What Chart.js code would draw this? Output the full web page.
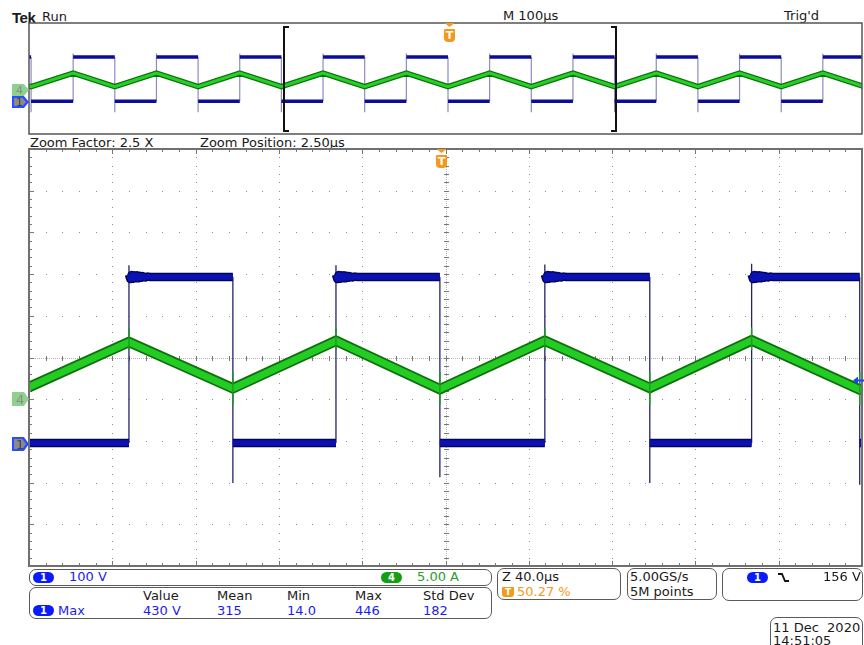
<!DOCTYPE html>
<html>
<head>
<meta charset="utf-8">
<script src="https://cdn.jsdelivr.net/npm/chart.js@4.4.0/dist/chart.umd.min.js"></script>
<style>
  body { margin: 0; width: 864px; height: 645px; overflow: hidden; background: #fff; position: relative;
         font-family: "DejaVu Sans", sans-serif; font-size: 13px; color: #1a1a1a; }
  .t { position: absolute; white-space: pre; line-height: 1; }
  .blue { color: #1c1cf0; }
  .green { color: #2a9d2a; }
  .orange { color: #f39a1e; }
  .box { position: absolute; border: 1px solid #5a5a5a; border-radius: 7px; box-sizing: border-box; }
  .pill { position: absolute; width: 21px; height: 11px; border-radius: 6px; color: #fff; text-align: center;
          font: bold 10px/11px "DejaVu Sans", sans-serif; }
  .mk { position: absolute; width: 17px; clip-path: polygon(0 0, 70% 0, 100% 50%, 70% 100%, 0 100%); }
  .mk span { position: absolute; left: 4px; top: 50%; transform: translateY(-50%); font: 13px "DejaVu Sans", sans-serif; }
  .trig { position: absolute; width: 11px; }
  .trig .tri { width: 10px; height: 4px; background: #f39a1e; clip-path: polygon(0 0, 100% 0, 50% 100%); margin-left: 0.5px; }
  .trig .tb { margin-top: 2px; width: 11px; height: 13px; background: #f39a1e; border-radius: 1px 1px 4px 4px;
              color: #fff; font: bold 11px/13px "DejaVu Sans", sans-serif; text-align: center; }
  canvas { position: absolute; }
</style>
</head>
<body>

<div class="t" style="left:12px;top:9px;font:bold 15px 'Liberation Sans',sans-serif;letter-spacing:-0.5px">Tek</div>
<div class="t" style="left:42px;top:9.5px">Run</div>
<div class="t" style="left:503px;top:9px">M 100µs</div>
<div class="t" style="left:784px;top:9px">Trig'd</div>
<div class="t" style="left:30px;top:135.5px">Zoom Factor: 2.5 X</div>
<div class="t" style="left:200px;top:135.5px">Zoom Position: 2.50µs</div>

<canvas id="overview" width="835" height="113" style="left:28px;top:22px"></canvas>
<canvas id="zoomed" width="835" height="419" style="left:28px;top:148px"></canvas>

<!-- zoom window bracket -->
<div style="position:absolute;left:283px;top:26px;width:4px;height:102px;border:2px solid #111;border-right:none"></div>
<div style="position:absolute;left:611px;top:26px;width:4px;height:102px;border:2px solid #111;border-left:none"></div>

<!-- trigger position markers -->
<div class="trig" style="left:444px;top:23px"><div class="tri"></div><div class="tb">T</div></div>
<div class="trig" style="left:436px;top:149px"><div class="tri"></div><div class="tb">T</div></div>

<!-- channel ground markers -->
<div class="mk" style="left:12px;top:84px;height:12px;background:#8fd08f"><span style="color:#8a8a8a;font-size:11px">4</span></div>
<div class="mk" style="left:12px;top:96px;height:12px;background:#2c4dff">
  <div class="mk" style="left:2px;top:2px;width:12px;height:8px;background:#8a8a8a"></div><span style="color:#444;font-size:11px">1</span></div>
<div class="mk" style="left:12px;top:392px;height:14px;background:#8fd08f"><span style="color:#8a8a8a">4</span></div>
<div class="mk" style="left:12px;top:437px;height:14px;background:#2c4dff">
  <div class="mk" style="left:2px;top:2px;width:12px;height:10px;background:#8a8a8a"></div><span style="color:#444">1</span></div>

<!-- trigger level arrow -->
<svg style="position:absolute;left:853px;top:376px" width="11" height="9">
  <polygon points="0,4.5 5,0.5 5,8.5" fill="#2040ff"/><rect x="4" y="3.5" width="7" height="2" fill="#2040ff"/>
</svg>

<!-- readouts -->
<div class="box" style="left:29px;top:569px;width:463px;height:17px"></div>
<div class="pill" style="left:33px;top:572px;background:#0a1cff">1</div>
<div class="t blue" style="left:69px;top:570px">100 V</div>
<div class="pill" style="left:381px;top:572px;background:#12a012">4</div>
<div class="t green" style="left:417px;top:570px">5.00 A</div>

<div class="box" style="left:29px;top:587px;width:463px;height:32px"></div>
<div class="t" style="left:143px;top:589px">Value</div>
<div class="t" style="left:217px;top:589px">Mean</div>
<div class="t" style="left:287px;top:589px">Min</div>
<div class="t" style="left:355px;top:589px">Max</div>
<div class="t" style="left:423px;top:589px">Std Dev</div>
<div class="pill" style="left:33px;top:605px;background:#0a1cff">1</div>
<div class="t blue" style="left:58px;top:604px">Max</div>
<div class="t blue" style="left:143px;top:604px">430 V</div>
<div class="t blue" style="left:217px;top:604px">315</div>
<div class="t blue" style="left:287px;top:604px">14.0</div>
<div class="t blue" style="left:355px;top:604px">446</div>
<div class="t blue" style="left:423px;top:604px">182</div>

<div class="box" style="left:497px;top:568px;width:124px;height:32px"></div>
<div class="t" style="left:502px;top:570px">Z 40.0µs</div>
<div style="position:absolute;left:502px;top:587px;width:12px;height:10px;background:#f39a1e;border-radius:1px 1px 3px 3px;color:#fff;font:bold 9px/10px 'DejaVu Sans';text-align:center">T</div>
<div class="t orange" style="left:517px;top:585px">50.27 %</div>

<div class="box" style="left:627px;top:568px;width:90px;height:32px"></div>
<div class="t" style="left:630px;top:570px">5.00GS/s</div>
<div class="t" style="left:630px;top:585px">5M points</div>

<div class="box" style="left:722px;top:568px;width:141px;height:33px"></div>
<div class="pill" style="left:747px;top:572px;background:#0a1cff">1</div>
<svg style="position:absolute;left:777px;top:572px" width="13" height="11">
  <path d="M1,2 H5 L8,9 H12" stroke="#111" stroke-width="1.8" fill="none"/>
</svg>
<div class="t" style="left:823px;top:570px">156 V</div>

<div class="box" style="left:770px;top:617px;width:93px;height:40px"></div>
<div class="t" style="left:773px;top:621px">11 Dec  2020</div>
<div class="t" style="left:773px;top:634px">14:51:05</div>

<script>
// ---- overview record: 100 µs/div, 0..1000 µs ----
const ovRise = [53, 153, 253, 353, 453, 553, 653, 753, 853, 953];          // µs
const ovFall = [2.5, 103, 203, 303, 403, 503, 603, 703, 803, 903, 1003];   // µs
const ovHigh = 398;          // V
const ovRiseTop = 430;       // V
const ovFallBottom = -99;    // V
const ovCh4Start = 1.5;      // A
const ovCh4Peak = 7.4;       // A at rising edges
const ovCh4Trough = 1.3;     // A at falling edges

// ---- zoomed record: 40 µs/div, 0..400 µs ----
const zmRise = [48.0, 147.4, 247.7, 347.0];
const zmFall = [97.9, 197.3, 298.1, 398.9];
const zmHigh = 398;
const zmRiseTop = [426, 426, 428, 430];
const zmFallBottom = [-96, -82, -96, -100];
const zmCh4Start = 1.45;
const zmCh4Peak = [6.85, 7.0, 7.0, 7.05];
const zmCh4Trough = [1.3, 1.2, 1.35, 1.15];
const zmCh4End = 1.2;
const ch4SpikeAtRise = [8.6, 5.9];
const ch4SpikeAtFall = [3.3, -0.7];
// ringing on the top plateau after each rising edge
const ringDt = [0, 0.65, 1.3, 1.95, 2.6, 3.25, 3.9, 4.55, 5.2, 5.85, 6.5, 7.8, 9.1, 10.4];
const ringV = [404, 393, 403, 394, 402, 395, 402, 395, 401, 396, 400, 397, 399, 398];

function events(rises, falls) {
  return rises.map((t, i) => ({ t, up: true, i }))
    .concat(falls.map((t, i) => ({ t, up: false, i })))
    .sort((a, b) => a.t - b.t);
}

// plateaus of CH1 (thick band), broken at every edge
function ch1Band(rises, falls, t0, t1, high, ring) {
  const ev = events(rises, falls);
  let level = ev[0].up ? 0 : high;
  const pts = [{ x: t0, y: level }];
  ev.forEach(e => {
    pts.push({ x: e.t, y: level }, { x: e.t, y: null });
    level = e.up ? high : 0;
    if (e.up && ring) ringDt.forEach((d, k) => pts.push({ x: e.t + d, y: ringV[k] }));
    else pts.push({ x: e.t, y: level });
  });
  pts.push({ x: t1, y: level });
  return pts;
}

// thin vertical switching edges of CH1 with their overshoot
function ch1Edges(rises, falls, high, top, bottom) {
  const pts = [];
  events(rises, falls).forEach(e => {
    if (e.up) pts.push({ x: e.t, y: 0 }, { x: e.t, y: Array.isArray(top) ? top[e.i] : top });
    else pts.push({ x: e.t, y: high }, { x: e.t, y: Array.isArray(bottom) ? bottom[e.i] : bottom });
    pts.push({ x: e.t, y: null });
  });
  return pts;
}

// CH4 triangle: peaks at rising edges, troughs at falling edges
function ch4Tri(rises, falls, t0, t1, start, peak, trough, end) {
  const pts = [{ x: t0, y: start }];
  events(rises, falls).forEach(e => {
    const v = e.up ? (Array.isArray(peak) ? peak[e.i] : peak) : (Array.isArray(trough) ? trough[e.i] : trough);
    pts.push({ x: e.t, y: v });
  });
  if (end !== undefined) pts.push({ x: t1, y: end });
  return pts;
}

function ch4Spikes(rises, falls) {
  const pts = [];
  events(rises, falls).forEach(e => {
    const s = e.up ? ch4SpikeAtRise : ch4SpikeAtFall;
    pts.push({ x: e.t, y: s[0] }, { x: e.t, y: s[1] }, { x: e.t, y: null });
  });
  return pts;
}

const graticule = {
  id: 'graticule',
  beforeDatasetsDraw(chart) {
    const { ctx, chartArea: a } = chart;
    const w = a.right - a.left, h = a.bottom - a.top;
    const cx = Math.round(a.left + w / 2), cy = Math.round(a.top + h / 2);
    ctx.save();
    ctx.fillStyle = '#8c8c8c';
    for (let i = 1; i < 10; i++) {
      const gx = Math.round(a.left + i * w / 10), gy = Math.round(a.top + i * h / 10);
      for (let j = 1; j < 50; j++) {
        ctx.fillRect(gx, Math.round(a.top + j * h / 50), 1, 1);
        ctx.fillRect(Math.round(a.left + j * w / 50), gy, 1, 1);
      }
    }
    ctx.fillStyle = '#b4b4b4';
    for (let y = a.top; y < a.bottom; y += 2) ctx.fillRect(cx, y, 1, 1);
    for (let x = a.left; x < a.right; x += 2) ctx.fillRect(x, cy, 1, 1);
    ctx.fillStyle = '#777';
    for (let j = 1; j < 50; j++) {
      const ty = Math.round(a.top + j * h / 50), tx = Math.round(a.left + j * w / 50);
      ctx.fillRect(cx - 2, ty, 5, 1);
      ctx.fillRect(tx, cy - 2, 1, 5);
      const big = j % 5 === 0 ? 5 : 3;
      ctx.fillRect(a.left, ty, big, 1);
      ctx.fillRect(tx, a.top, 1, big);
      ctx.fillRect(tx, a.bottom - big, 1, big);
    }
    ctx.restore();
  }
};

function frame(color, width) {
  return {
    id: 'frame',
    afterDatasetsDraw(chart) {
      const { ctx, chartArea: a } = chart;
      ctx.save();
      ctx.strokeStyle = color;
      ctx.lineWidth = width;
      ctx.strokeRect(a.left, a.top, a.right - a.left, a.bottom - a.top);
      ctx.restore();
    }
  };
}

function scopeOptions(xMax) {
  return {
    responsive: false,
    animation: false,
    layout: { padding: 1 },
    elements: { point: { radius: 0 }, line: { tension: 0, borderJoinStyle: 'miter' } },
    plugins: { legend: { display: false }, tooltip: { enabled: false } },
    scales: {
      x: { type: 'linear', min: 0, max: xMax, display: false },
      y: { min: -295, max: 705, display: false },      // CH1, 100 V/div
      y4: { min: -20, max: 30, display: false }        // CH4, 5 A/div
    }
  };
}

new Chart(document.getElementById('overview'), {
  type: 'line',
  data: {
    datasets: [
      { data: ch4Tri(ovRise, ovFall, 0, 1000, ovCh4Start, ovCh4Peak, ovCh4Trough),
        yAxisID: 'y4', borderColor: '#27d027', borderWidth: 3, order: 0 },
      { data: ch4Tri(ovRise, ovFall, 0, 1000, ovCh4Start, ovCh4Peak, ovCh4Trough),
        yAxisID: 'y4', borderColor: '#0d700d', borderWidth: 5.5, order: 1 },
      { data: ch1Band(ovRise, ovFall, 0, 1000, ovHigh, false),
        borderColor: '#0c0c9c', borderWidth: 3.5, order: 2 },
      { data: ch1Edges(ovRise, ovFall, ovHigh, ovRiseTop, ovFallBottom),
        borderColor: '#8c8cc4', borderWidth: 1.2, order: 3 }
    ]
  },
  options: scopeOptions(1000),
  plugins: [frame('#555', 1.5)]
});

new Chart(document.getElementById('zoomed'), {
  type: 'line',
  data: {
    datasets: [
      { data: ch4Spikes(zmRise, zmFall), yAxisID: 'y4', borderColor: '#1c9c1c', borderWidth: 1.4, order: 0 },
      { data: ch4Tri(zmRise, zmFall, 0, 400, zmCh4Start, zmCh4Peak, zmCh4Trough, zmCh4End),
        yAxisID: 'y4', borderColor: '#22cc22', borderWidth: 7, order: 1 },
      { data: ch4Tri(zmRise, zmFall, 0, 400, zmCh4Start, zmCh4Peak, zmCh4Trough, zmCh4End),
        yAxisID: 'y4', borderColor: '#0f6f0f', borderWidth: 10.5, order: 2 },
      { data: ch1Band(zmRise, zmFall, 0, 400, zmHigh, true),
        borderColor: '#0b12b4', borderWidth: 5.5, borderJoinStyle: 'round', order: 3 },
      { data: ch1Band(zmRise, zmFall, 0, 400, zmHigh, true),
        borderColor: '#04045a', borderWidth: 8.5, borderJoinStyle: 'round', order: 4 },
      { data: ch1Edges(zmRise, zmFall, zmHigh, zmRiseTop, zmFallBottom),
        borderColor: '#23236f', borderWidth: 1.3, order: 5 }
    ]
  },
  options: scopeOptions(400),
  plugins: [graticule, frame('#707070', 2)]
});
</script>
</body>
</html>
